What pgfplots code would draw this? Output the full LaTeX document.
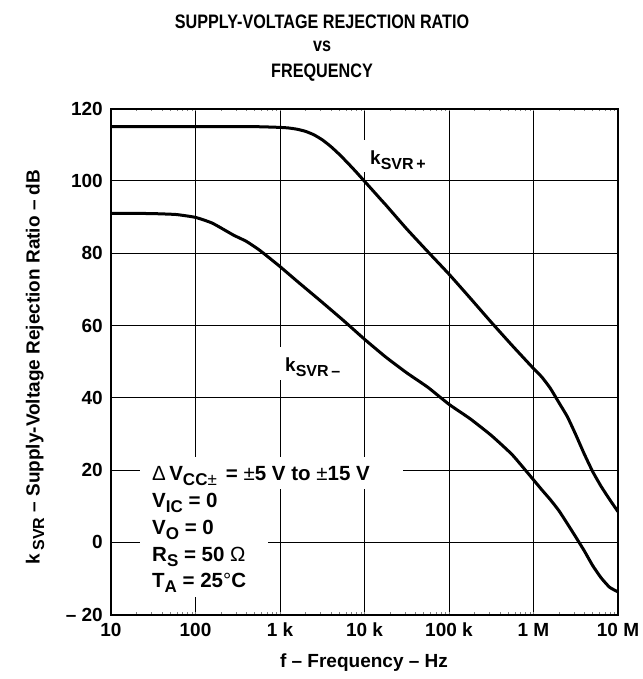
\documentclass[border=0pt]{standalone}
\usepackage{fontspec}
\setmainfont{Liberation Sans}
\newfontfamily\titlefont[FakeStretch=0.83]{Liberation Sans}
\usepackage{pgfplots}
\pgfplotsset{compat=1.18}
\newcommand\sub[1]{\raisebox{-4.5pt}{\fontsize{16}{16}\selectfont #1}}
\newcommand\csub[1]{\raisebox{-5pt}{\fontsize{17}{17}\selectfont #1}}
\newcommand\bigf{\fontsize{19}{22}\selectfont\bfseries}
\newcommand\condf{\fontsize{20.5}{24}\selectfont\bfseries}
\newcommand\tickf{\fontsize{19}{22}\selectfont\bfseries}
\newcommand\titf{\titlefont\fontsize{19.5}{22}\selectfont\bfseries}
\pgfplotstableread{
f dB
10 115
100 115
500 115
1000 114.8
1258.9 114.64
1584.9 114.3
1995.3 113.72
2511.9 112.77
3162.3 111.37
3981.1 109.54
5011.9 107.38
6309.6 105.0
7943.3 102.5
10000 99.9
12589 97.3
15849 94.68
17783 93.4
31623 86.7
56234 80.4
100000 74.2
177828 67.6
316228 60.9
562341 54.4
1000000 48.1
1258925 45.7
1584893 42.6
1995262 38.7
2511886 34.8
3162278 29.8
3981072 24.5
5011872 19.6
6309573 15.5
7943282 11.9
10000000 8.5
}\kplus
\pgfplotstableread{
f dB
10 91
20 91
31.62 90.95
58.88 90.7
100 89.9
158.49 88.3
281.84 85.0
398.1 83.3
575.4 80.8
1000 76.3
1584.9 72.3
2951.2 67
5623.4 61.4
10000 56.2
17783 51.3
31623 46.9
56234 42.9
100000 38.2
177828 34.2
316228 29.6
562341 24.2
1000000 17.3
1258925 14.5
1584893 11.8
1995262 8.8
2511886 5.2
3162278 1.5
3981072 -2.3
5011872 -6.4
6309573 -9.8
7943282 -12.4
10000000 -13.7
}\kminus
\begin{document}
\begin{tikzpicture}[x=1pt,y=1pt]
\useasboundingbox (0,0) rectangle (642,679);
\begin{axis}[
  at={(111pt,64.3pt)}, anchor=south west,
  scale only axis, width=507pt, height=506.1pt,
  xmode=log, xmin=10, xmax=1e7, ymin=-20, ymax=120,
  xtick={10,100,1000,10000,100000,1000000,10000000},
  xticklabels={10,100,1 k,10 k,100 k,1 M,10 M},
  ytick={-20,0,20,40,60,80,100,120},
  yticklabels={– 20,0,20,40,60,80,100,120},
  minor xtick={},
  grid=major, major grid style={black, line width=0.9pt},
  axis line style={line width=2pt},
  major tick length=0pt,
  tick label style={font=\tickf},
  xticklabel style={anchor=base, inner sep=0pt, yshift=-22pt},
  yticklabel style={anchor=east, inner sep=0pt, xshift=-8pt},
]
\addplot[black, line width=3pt, smooth, tension=0.3] table[x=f,y=dB] {\kplus};
\addplot[black, line width=3pt, smooth, tension=0.3] table[x=f,y=dB] {\kminus};
\end{axis}
% title
\node[anchor=base, font=\titf] at (322,679-28.3) {SUPPLY-VOLTAGE REJECTION RATIO};
\node[anchor=base, font=\titf] at (322,679-51.7) {vs};
\node[anchor=base, font=\titf] at (322,679-77.3) {FREQUENCY};
% axis labels
\node[anchor=base, rotate=90, font=\bigf, inner sep=0pt] at (39.5,679-367) {k\,\sub{SVR} – Supply-Voltage Rejection Ratio – dB};
\node[anchor=base, font=\bigf, inner sep=0pt] at (364,679-667) {f – Frequency – Hz};
% curve labels
\fill[white] (364,679-140) rectangle (434,679-172);
\node[anchor=base west, font=\bigf, inner sep=0pt] at (370,679-165) {k\sub{SVR\,+}};
\fill[white] (275,679-347) rectangle (350,679-380);
\node[anchor=base west, font=\bigf, inner sep=0pt] at (285,679-372) {k\sub{SVR\,–}};
% conditions
\fill[white] (140,679-457) rectangle (403,679-489);
\fill[white] (140,679-489) rectangle (268,679-597);
\node[anchor=base west, font=\condf, inner sep=0pt] at (152,679-481) {{\mdseries Δ}\,V\csub{CC{\mdseries±}}\, = {\mdseries±}5 V to {\mdseries±}15 V};
\node[anchor=base west, font=\condf, inner sep=0pt] at (152,679-508) {V\csub{IC} = 0};
\node[anchor=base west, font=\condf, inner sep=0pt] at (152,679-535) {V\csub{O} = 0};
\node[anchor=base west, font=\condf, inner sep=0pt] at (152,679-561.5) {R\csub{S} = 50 {\mdseries Ω}};
\node[anchor=base west, font=\condf, inner sep=0pt] at (152,679-588) {T\csub{A} = 25{\mdseries°}C};
\end{tikzpicture}
\end{document}
